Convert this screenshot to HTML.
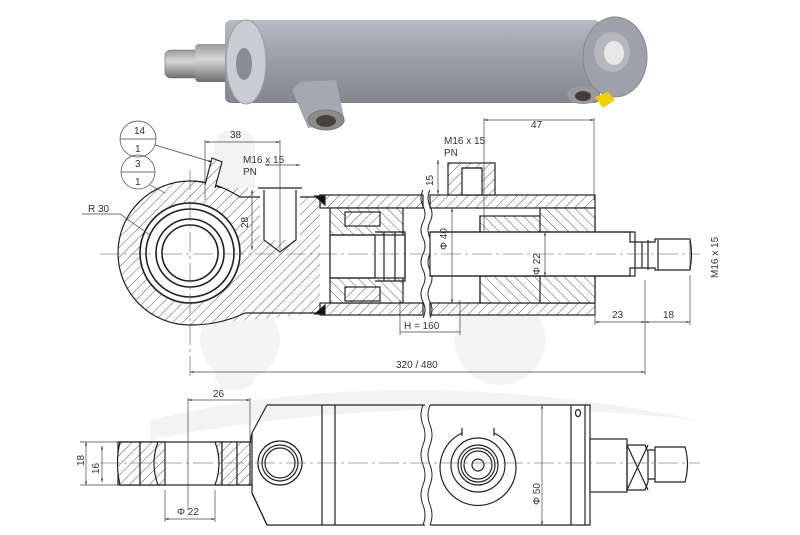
<!DOCTYPE html>
<html><head><meta charset="utf-8"><style>
html,body{margin:0;padding:0;background:#fff;}
svg{display:block;font-family:"Liberation Sans",sans-serif;}
text{font-size:10px;fill:#333;}
</style></head><body>
<svg width="800" height="535" viewBox="0 0 800 535" xmlns="http://www.w3.org/2000/svg">
<defs>
<pattern id="h" width="7" height="7" patternUnits="userSpaceOnUse" patternTransform="rotate(45)">
<rect width="7" height="7" fill="#fff"/><line x1="0" y1="0" x2="0" y2="7" stroke="#444" stroke-width="0.9"/></pattern>
<pattern id="h2" width="7" height="7" patternUnits="userSpaceOnUse" patternTransform="rotate(-45)">
<rect width="7" height="7" fill="#fff"/><line x1="0" y1="0" x2="0" y2="7" stroke="#444" stroke-width="0.9"/></pattern>
<linearGradient id="cyl" x1="0" y1="0" x2="0" y2="1">
<stop offset="0" stop-color="#b9bcc4"/><stop offset="0.3" stop-color="#a4a7b0"/><stop offset="1" stop-color="#83868f"/></linearGradient>
<linearGradient id="rod" x1="0" y1="0" x2="0" y2="1">
<stop offset="0" stop-color="#9a9a9a"/><stop offset="0.4" stop-color="#d8d8d8"/><stop offset="1" stop-color="#6f6f6f"/></linearGradient>
<marker id="a" viewBox="0 0 10 10" refX="10" refY="5" markerWidth="7" markerHeight="5" orient="auto-start-reverse"><path d="M0,2 L10,5 L0,8z" fill="#333"/></marker>
</defs>

<!-- faint watermark -->
<g fill="#f3f3f3">
<path d="M150,420 Q400,360 700,420 Q400,390 150,440z"/>
<rect x="215" y="130" width="40" height="260" rx="15"/>
<circle cx="240" cy="340" r="40"/>
<circle cx="500" cy="340" r="45"/>
</g>

<!-- PHOTO -->
<g>
<rect x="165" y="50" width="45" height="28" rx="6" fill="url(#rod)" stroke="#666" stroke-width="0.6"/>
<rect x="195" y="44" width="50" height="38" rx="4" fill="url(#rod)"/>
<rect x="225" y="20" width="375" height="83" rx="6" fill="url(#cyl)"/>
<ellipse cx="246" cy="62" rx="20" ry="42" fill="#c9ccd2" stroke="#9a9ca3"/>
<ellipse cx="244" cy="64" rx="8" ry="16" fill="#8a8c93"/>
<path d="M292,90 L300,82 L336,80 L345,122 L308,128 Z" fill="#a5a8b0"/>
<ellipse cx="326" cy="120" rx="18" ry="10" fill="#8e8a8a" stroke="#777"/>
<ellipse cx="326" cy="121" rx="10" ry="6" fill="#4a4040"/>
<ellipse cx="583" cy="95" rx="16" ry="9" fill="#999"/>
<ellipse cx="583" cy="96" rx="8" ry="5" fill="#443a3a"/>
<ellipse cx="615" cy="57" rx="32" ry="40" fill="#9ea1a9" stroke="#888"/>
<ellipse cx="612" cy="52" rx="18" ry="20" fill="#b5b7bd"/>
<ellipse cx="614" cy="53" rx="10" ry="12" fill="#e8e8e8"/>
<path d="M595,97 L608,92 L615,100 L603,108 Z" fill="#f2d000"/>
</g>

<!-- SECTION VIEW -->
<g stroke="#222" stroke-width="1.2" fill="none">
<circle cx="190" cy="253" r="72" fill="url(#h)"/>
<path d="M220,188 L255,188 L255,197 L320,197 L320,313 L195,325 L190,181Z" fill="url(#h)" stroke="none"/>
<path d="M190,181 Q215,181 240,197 L320,197 M190,325 Q220,325 245,313 L320,313"/>
<circle cx="190" cy="253" r="50" fill="#fff"/>
<circle cx="190" cy="253" r="50" stroke-width="1.6"/>
<circle cx="190" cy="253" r="44" stroke-width="1.6"/>
<circle cx="190" cy="253" r="34" stroke-width="1.6"/>
<circle cx="190" cy="253" r="28" stroke-width="1.6"/>
<rect x="260" y="188" width="40" height="52" fill="#fff" stroke="none"/>
<path d="M258,188 L302,188 M264,190 L264,240 L280,252 L296,240 L296,190"/>
<path d="M205,185 L212,158 L222,162 L215,188" fill="url(#h)"/>
<rect x="320" y="195" width="103" height="13" fill="url(#h)"/>
<rect x="320" y="303" width="103" height="12" fill="url(#h)"/>
<rect x="430" y="195" width="165" height="13" fill="url(#h)"/>
<rect x="430" y="303" width="165" height="12" fill="url(#h)"/>
<path d="M315,196 L325,196 L325,205Z M315,314 L325,314 L325,305Z" fill="#111"/>
<rect x="330" y="208" width="73" height="95" fill="url(#h2)"/>
<rect x="330" y="235" width="75" height="43" fill="#fff"/>
<path d="M330,235 L375,235 L375,278 L330,278 M375,232 L405,232 L405,281 L375,281 M384,232 L384,281 M395,232 L395,281"/>
<rect x="345" y="212" width="35" height="14" fill="url(#h)"/>
<rect x="345" y="287" width="35" height="14" fill="url(#h)"/>
<path d="M423,190 q-4,8 0,16 q4,8 0,16 q-4,8 0,16 q4,8 0,16 q-4,8 0,16 q4,8 0,16 q-4,8 0,16 q4,8 0,16" stroke-width="1"/>
<path d="M430,190 q-4,8 0,16 q4,8 0,16 q-4,8 0,16 q4,8 0,16 q-4,8 0,16 q4,8 0,16 q-4,8 0,16 q4,8 0,16" stroke-width="1"/>
<rect x="448" y="163" width="47" height="32" fill="url(#h)"/>
<rect x="462" y="168" width="20" height="27" fill="#fff"/>
<path d="M462,168 L482,168"/>
<rect x="480" y="216" width="115" height="17" fill="url(#h2)"/>
<rect x="480" y="276" width="115" height="27" fill="url(#h2)"/>
<rect x="540" y="208" width="55" height="95" fill="url(#h2)"/>
<path d="M480,216 L480,303" />
<rect x="430" y="232" width="205" height="44" fill="#fff"/>
<path d="M430,232 L630,232 L630,242 L642,242 L642,268 L630,268 L630,276 L430,276"/>
<path d="M642,242 L655,242 L655,239 L690,239 Q693,254 690,270 L655,270 L655,268 L642,268 M648,240 L648,270 M658,240 L658,270"/>
</g>
<path d="M100,254 L700,254" stroke="#555" stroke-width="0.6" stroke-dasharray="20,4,3,4"/>
<path d="M190,170 L190,380" stroke="#555" stroke-width="0.6" stroke-dasharray="20,4,3,4"/>

<g stroke="#444" stroke-width="0.7" fill="none">
<path d="M205,140 L205,200 M280,140 L280,250"/>
<path d="M205,142 L280,142" marker-start="url(#a)" marker-end="url(#a)"/>
<path d="M265,165 L300,165" marker-start="url(#a)" marker-end="url(#a)"/>
<path d="M484,118 L484,232 M594,118 L594,200"/>
<path d="M484,120 L594,120" marker-start="url(#a)" marker-end="url(#a)"/>
<path d="M438,160 L438,194" marker-start="url(#a)" marker-end="url(#a)"/>
<path d="M252,190 L252,250" marker-start="url(#a)" marker-end="url(#a)"/>
<path d="M452,208 L452,303" marker-start="url(#a)" marker-end="url(#a)"/>
<path d="M545,232 L545,276" marker-start="url(#a)" marker-end="url(#a)"/>
<path d="M690,239 L690,270" marker-start="url(#a)" marker-end="url(#a)"/>
<path d="M400,300 L400,335 M460,300 L460,335 M400,332 L460,332" marker-start="url(#a)"/>
<path d="M595,300 L595,325 M645,280 L645,375 M690,275 L690,325"/>
<path d="M595,322 L645,322" marker-start="url(#a)" marker-end="url(#a)"/>
<path d="M645,322 L690,322" marker-start="url(#a)" marker-end="url(#a)"/>
<path d="M190,372 L645,372" marker-start="url(#a)" marker-end="url(#a)"/>
<path d="M82,214 L120,214 L150,235"/>
<circle cx="138" cy="139" r="18"/><path d="M120,139 L156,139"/>
<circle cx="138" cy="172" r="17"/><path d="M121,172 L155,172"/>
<path d="M155,145 L212,162" marker-end="url(#a)"/>
<path d="M150,185 L165,193"/>
</g>
<g>
<text x="230" y="138">38</text>
<text x="243" y="163">M16 x 15</text><text x="243" y="175">PN</text>
<text x="444" y="144">M16 x 15</text><text x="444" y="156">PN</text>
<text x="531" y="128">47</text>
<text x="88" y="212">R 30</text>
<text x="134" y="134" font-size="9">14</text><text x="135" y="152" font-size="9">1</text>
<text x="135" y="167" font-size="9">3</text><text x="135" y="185" font-size="9">1</text>
<text x="404" y="329">H = 160</text>
<text x="612" y="318">23</text><text x="663" y="318">18</text>
<text x="396" y="368">320 / 480</text>
<text transform="translate(248,228) rotate(-90)">28</text>
<text transform="translate(433,186) rotate(-90)">15</text>
<text transform="translate(447,250) rotate(-90)">Φ 40</text>
<text transform="translate(540,275) rotate(-90)">Φ 22</text>
<text transform="translate(718,278) rotate(-90)">M16 x 15</text>
</g>

<!-- BOTTOM VIEW -->
<g stroke="#222" stroke-width="1.2" fill="none">
<path d="M267,405 L425,405 M430,405 L590,405 L590,525 L430,525 M425,525 L267,525 L252,493 L252,485 L250,485 M250,442 L252,442 L252,433 Z" fill="#fff"/>
<path d="M267,405 L252,433 M267,525 L252,493"/>
<path d="M322,405 L322,525 M335,405 L335,525 M571,405 L571,525 M585,405 L585,525"/>
<path d="M423,405 q-4,10 0,20 q4,10 0,20 q-4,10 0,20 q4,10 0,20 q-4,10 0,20 q4,10 0,20 M430,405 q-4,10 0,20 q4,10 0,20 q-4,10 0,20 q4,10 0,20 q-4,10 0,20 q4,10 0,20" stroke-width="1"/>
<circle cx="280" cy="463" r="22"/><circle cx="280" cy="463" r="18"/><circle cx="280" cy="463" r="15"/>
<path d="M462,433 A38,38 0 1,0 494,433"/><path d="M462,428 L462,436 M494,428 L494,436"/>
<circle cx="478" cy="465" r="27"/><circle cx="478" cy="465" r="20"/><circle cx="478" cy="465" r="17"/><circle cx="478" cy="465" r="14"/><circle cx="478" cy="465" r="6"/>
<ellipse cx="578" cy="413" rx="2.5" ry="3.5"/>
<rect x="590" y="439" width="37" height="53" fill="#fff"/>
<path d="M627,445 L645,445 L648,452 L648,482 L645,490 L627,490 Z M627,445 L648,490 M648,445 L627,490"/>
<path d="M648,450 L655,450 L655,447 L685,447 Q690,464 685,482 L655,482 L655,479 L648,479 M655,447 L655,482"/>
<rect x="118" y="442" width="134" height="43" fill="#fff"/>
<path d="M120,442 Q115,463 120,485 L140,485 L140,442Z" fill="url(#h)"/>
<rect x="140" y="442" width="18" height="43" fill="url(#h)"/>
<path d="M158,442 Q150,463 158,485 L165,485 L165,442Z" fill="url(#h)"/>
<path d="M215,442 L222,442 L222,485 L215,485 Q223,463 215,442Z" fill="url(#h)"/>
<rect x="222" y="442" width="15" height="43" fill="url(#h)"/>
<rect x="237" y="442" width="13" height="43" fill="url(#h)"/>
</g>
<path d="M100,463 L700,463" stroke="#555" stroke-width="0.6" stroke-dasharray="20,4,3,4"/>
<g stroke="#444" stroke-width="0.7" fill="none">
<path d="M188,398 L188,510 M250,398 L250,440"/>
<path d="M188,400 L250,400" marker-start="url(#a)" marker-end="url(#a)"/>
<path d="M165,490 L165,522 M215,490 L215,522"/>
<path d="M165,519 L215,519" marker-start="url(#a)" marker-end="url(#a)"/>
<path d="M86,442 L86,485" marker-start="url(#a)" marker-end="url(#a)"/>
<path d="M102,446 L102,482" marker-start="url(#a)" marker-end="url(#a)"/>
<path d="M80,442 L118,442 M80,485 L118,485"/>
<path d="M542,405 L542,525" marker-start="url(#a)" marker-end="url(#a)"/>
</g>
<text x="213" y="397">26</text>
<text x="177" y="515">Φ 22</text>
<text transform="translate(84,466) rotate(-90)">18</text>
<text transform="translate(99,474) rotate(-90)">16</text>
<text transform="translate(540,505) rotate(-90)">Φ 50</text>
</svg>
</body></html>
